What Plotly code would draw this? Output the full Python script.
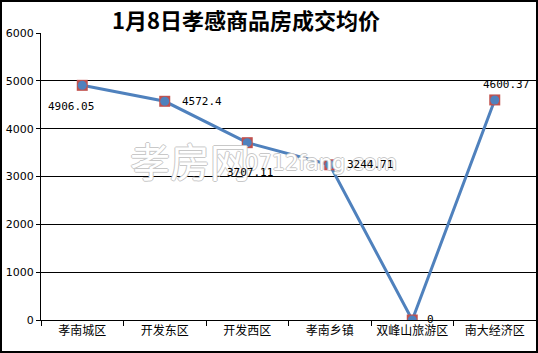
import plotly.graph_objects as go

categories = ["孝南城区", "开发东区", "开发西区", "孝南乡镇", "双峰山旅游区", "南大经济区"]
prices = [4906.05, 4572.4, 3707.11, 3244.71, 0, 4600.37]
labels = ["4906.05", "4572.4", "3707.11", "3244.71", "0", "4600.37"]
title = "1月8日孝感商品房成交均价"

# label offsets (pixels) relative to point: (xshift, yshift, xanchor)
label_pos = [(-11, -21, "center"), (15, 0, "left"), (3, -30, "center"),
             (15, 0, "left"), (13, 1, "left"), (11, 15, "center")]

fig = go.Figure()
fig.add_trace(go.Scatter(
    x=categories, y=prices, mode="lines",
    line=dict(color="#4F81BD", width=3), hoverinfo="skip", showlegend=False))
fig.add_trace(go.Scatter(
    x=categories, y=prices, mode="markers",
    marker=dict(symbol="square", size=11, color="#C0504D"), showlegend=False))
fig.add_trace(go.Scatter(
    x=categories, y=prices, mode="markers",
    marker=dict(symbol="circle", size=9, color="#4F81BD"), showlegend=False))

ann = []
# watermark (outlined light text)
outline = "1px 0 0 #c8c8c8, -1px 0 0 #c8c8c8, 0 1px 0 #c8c8c8, 0 -1px 0 #c8c8c8"
ann.append(dict(xref="paper", yref="paper", x=(128 - 41) / 495, y=(320 - 160) / 287, text="孝房网",
                showarrow=False, xanchor="left", yanchor="middle",
                font=dict(family="Noto Sans CJK SC", size=40, color="white", shadow=outline)))
ann.append(dict(xref="paper", yref="paper", x=(243 - 41) / 495, y=(320 - 163) / 287, text="0712fang.com",
                showarrow=False, xanchor="left", yanchor="middle",
                font=dict(family="DejaVu Sans", size=21, color="white", shadow=outline)))

for c, v, t, (dx, dy, xa) in zip(categories, prices, labels, label_pos):
    ann.append(dict(x=c, y=v, xref="x", yref="y", text=t, showarrow=False,
                    xshift=dx, yshift=dy, xanchor=xa, yanchor="middle",
                    font=dict(family="DejaVu Sans Mono, monospace", size=11, color="#000")))

ann.append(dict(xref="paper", yref="paper", x=(246 - 41) / 495, y=1 + (33 - 19) / 287,
                text="<b>" + title + "</b>", showarrow=False, xanchor="center", yanchor="middle",
                font=dict(family="Noto Sans CJK SC", size=22, color="#000")))

fig.update_layout(
    width=538, height=353,
    margin=dict(l=41, r=2, t=33, b=33),
    paper_bgcolor="white", plot_bgcolor="white",
    annotations=ann,
    xaxis=dict(type="category", tickson="boundaries", ticks="outside", ticklen=5,
               tickcolor="black", showline=True, linecolor="black", linewidth=1,
               showgrid=False, range=[-0.5, 5.5],
               tickfont=dict(family="Noto Sans CJK SC", size=12, color="black")),
    yaxis=dict(range=[0, 6000], dtick=1000, ticks="outside", ticklen=4, tickcolor="black",
               showline=True, linecolor="black", linewidth=1,
               showgrid=True, gridcolor="black", gridwidth=1, zeroline=False,
               tickfont=dict(family="DejaVu Sans", size=11, color="black")),
    shapes=[dict(type="rect", xref="paper", yref="paper",
                 x0=-41 / 495 + 1 / 495, x1=1 + 1 / 495, y0=-33 / 287 + 1 / 287, y1=1 + 33 / 287 - 1 / 287,
                 line=dict(color="black", width=2), fillcolor="rgba(0,0,0,0)", layer="above")],
)

fig.write_html("out.html")
